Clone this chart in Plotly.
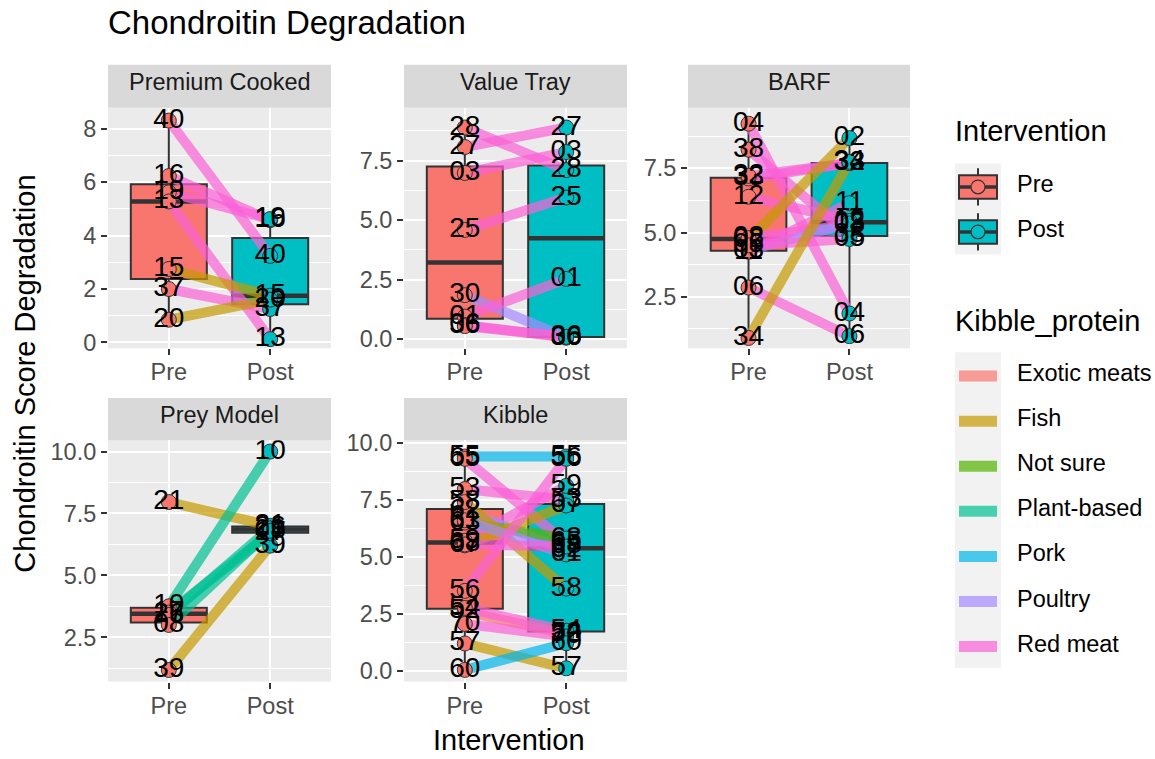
import numpy as np
import plotly.graph_objects as go

W, H = 1155, 759
FONT = "Liberation Sans, Arial, Helvetica, sans-serif"

# ---------------- data ----------------
facets = ["Premium Cooked", "Value Tray", "BARF", "Prey Model", "Kibble"]
interventions = ["Pre", "Post"]
proteins = ["Exotic meats", "Fish", "Not sure", "Plant-based", "Pork", "Poultry", "Red meat"]
protein_colors = ["#F8766D", "#C49A00", "#53B400", "#00C094", "#00B6EB", "#A58AFF", "#FB61D7"]
intervention_colors = ["#F8766D", "#00BFC4"]

pc_ids = ["40", "16", "19", "13", "15", "37", "20"]
pc_protein = ["Red meat", "Red meat", "Red meat", "Red meat", "Fish", "Red meat", "Fish"]
pc_pre = [8.31, 6.23, 5.62, 5.28, 2.75, 2.0, 0.85]
pc_post = [3.24, 4.58, 4.62, 0.12, 1.75, 1.25, 1.6]

vt_ids = ["28", "27", "03", "25", "30", "01", "06", "36"]
vt_protein = ["Red meat", "Red meat", "Red meat", "Red meat", "Poultry", "Red meat", "Red meat", "Red meat"]
vt_pre = [8.89, 8.07, 6.98, 4.59, 1.85, 0.95, 0.6, 0.55]
vt_post = [7.1, 8.89, 7.86, 5.95, 0.07, 2.53, 0.07, 0.1]

barf_ids = ["04", "38", "33", "32", "12", "02", "08", "03", "11", "05", "06", "34"]
barf_protein = ["Red meat", "Red meat", "Red meat", "Red meat", "Red meat", "Fish", "Red meat",
                "Poultry", "Red meat", "Red meat", "Red meat", "Fish"]
barf_pre = [9.23, 8.22, 7.1, 7.2, 6.39, 4.72, 4.78, 4.3, 4.25, 4.5, 2.86, 0.9]
barf_post = [1.85, 4.9, 7.7, 7.7, 5.45, 8.67, 5.3, 5.35, 6.14, 4.75, 0.97, 7.75]

prey_ids = ["21", "39", "10", "17", "26", "08"]
prey_protein = ["Fish", "Fish", "Plant-based", "Plant-based", "Plant-based", "Plant-based"]
prey_pre = [7.96, 1.18, 3.75, 3.5, 3.4, 3.0]
prey_post = [7.0, 6.2, 10.0, 6.7, 6.9, 6.8]

kib_ids = ["55", "65", "53", "59", "62", "63", "67", "58", "61", "68", "56", "52", "54", "70", "57", "60"]
kib_protein = ["Pork", "Red meat", "Red meat", "Red meat", "Poultry", "Not sure", "Fish", "Fish",
               "Poultry", "Red meat", "Red meat", "Exotic meats", "Red meat", "Red meat", "Fish", "Pork"]
kib_pre = [9.4, 9.3, 7.97, 5.7, 7.0, 6.5, 5.5, 7.4, 6.6, 5.54, 3.5, 2.6, 2.75, 2.05, 1.19, 0.03]
kib_post = [9.4, 5.6, 7.5, 8.11, 5.3, 5.8, 7.25, 3.6, 5.1, 5.45, 9.3, 1.6, 1.75, 1.5, 0.1, 1.2]

facet_data = {
    "Premium Cooked": (pc_ids, pc_protein, pc_pre, pc_post),
    "Value Tray": (vt_ids, vt_protein, vt_pre, vt_post),
    "BARF": (barf_ids, barf_protein, barf_pre, barf_post),
    "Prey Model": (prey_ids, prey_protein, prey_pre, prey_post),
    "Kibble": (kib_ids, kib_protein, kib_pre, kib_post),
}

# y tick labels per facet
facet_ticks = {
    "Premium Cooked": ["0", "2", "4", "6", "8"],
    "Value Tray": ["0.0", "2.5", "5.0", "7.5"],
    "BARF": ["2.5", "5.0", "7.5"],
    "Prey Model": ["2.5", "5.0", "7.5", "10.0"],
    "Kibble": ["0.0", "2.5", "5.0", "7.5", "10.0"],
}

# ---------------- layout geometry (pixels) ----------------
panel_px = {
    "Premium Cooked": (108, 331, 100, 346),
    "Value Tray": (404, 627, 100, 346),
    "BARF": (688, 910, 100, 346),
    "Prey Model": (108, 331, 440, 687),
    "Kibble": (404, 627, 440, 687),
}
strip_px = {1: (56, 100), 2: (397, 440)}
facet_row = {"Premium Cooked": 1, "Value Tray": 1, "BARF": 1, "Prey Model": 2, "Kibble": 2}
y_ranges = {
    "Premium Cooked": [-0.22, 8.79],
    "Value Tray": [-0.38, 9.72],
    "BARF": [0.50, 9.85],
    "Prey Model": [0.71, 10.46],
    "Kibble": [-0.485, 10.12],
}


def fx(p):
    return p / W


def fy(p):
    return 1 - p / H


def rgba(hexc, a):
    hexc = hexc.lstrip("#")
    r, g, b = int(hexc[0:2], 16), int(hexc[2:4], 16), int(hexc[4:6], 16)
    return f"rgba({r},{g},{b},{a})"


def box_stats(v):
    """ggplot2-style (quantile type 7) box statistics."""
    a = np.asarray(v, dtype=float)
    q1, med, q3 = np.percentile(a, [25, 50, 75])
    iqr = q3 - q1
    lo = a[a >= q1 - 1.5 * iqr].min()
    hi = a[a <= q3 + 1.5 * iqr].max()
    return float(q1), float(med), float(q3), float(lo), float(hi)


pcolor = dict(zip(proteins, protein_colors))
LINE_ALPHA = 0.7

fig = go.Figure()
shapes = []
annotations = []
xpos = {lvl: i + 1 for i, lvl in enumerate(interventions)}

for k, facet in enumerate(facets):
    n = k + 1
    xa = "x" if n == 1 else f"x{n}"
    ya = "y" if n == 1 else f"y{n}"
    ids, prot, pre, post = facet_data[facet]
    vals = {"Pre": pre, "Post": post}

    # boxes (ggplot-style statistics)
    for lvl, col in zip(interventions, intervention_colors):
        q1, med, q3, lo, hi = box_stats(vals[lvl])
        fig.add_trace(go.Box(
            x=[xpos[lvl]], q1=[q1], median=[med], q3=[q3], lowerfence=[lo], upperfence=[hi],
            xaxis=xa, yaxis=ya, width=0.75, whiskerwidth=0,
            fillcolor=col, line=dict(color="#333333", width=2), showlegend=False,
            hoverinfo="skip"))
    # thicker medians
    for lvl in interventions:
        med = box_stats(vals[lvl])[1]
        fig.add_trace(go.Scatter(
            x=[xpos[lvl] - 0.375, xpos[lvl] + 0.375], y=[med, med], xaxis=xa, yaxis=ya,
            mode="lines", line=dict(color="#333333", width=4.5), showlegend=False,
            hoverinfo="skip"))
    # paired lines
    for sid, p, a, b in zip(ids, prot, pre, post):
        fig.add_trace(go.Scatter(
            x=[xpos["Pre"], xpos["Post"]], y=[a, b], xaxis=xa, yaxis=ya, mode="lines",
            line=dict(color=rgba(pcolor[p], LINE_ALPHA), width=10), showlegend=False,
            hoverinfo="skip"))
    # points + labels
    for lvl, col in zip(interventions, intervention_colors):
        fig.add_trace(go.Scatter(
            x=[xpos[lvl]] * len(ids), y=vals[lvl], xaxis=xa, yaxis=ya, mode="markers",
            marker=dict(size=15, color=col, line=dict(color="#333333", width=1)),
            showlegend=False, hoverinfo="skip"))
    for lvl in interventions:
        fig.add_trace(go.Scatter(
            x=[xpos[lvl]] * len(ids), y=vals[lvl], xaxis=xa, yaxis=ya, mode="text",
            text=ids, textposition="middle center",
            textfont=dict(size=28, color="black", family=FONT),
            showlegend=False, hoverinfo="skip"))

    x0, x1, y0, y1 = panel_px[facet]
    tick_text = facet_ticks[facet]
    tick_vals = [float(t) for t in tick_text]
    step = tick_vals[1] - tick_vals[0]
    minor_vals = [tick_vals[0] - step / 2] + [t + step / 2 for t in tick_vals]
    axis_common = dict(
        ticks="outside", ticklen=6, tickwidth=1.5, tickcolor="#333333",
        tickfont=dict(size=23.5, color="#4D4D4D", family=FONT),
        showgrid=True, gridcolor="white", gridwidth=2, zeroline=False,
        showline=False, fixedrange=True)
    fig.update_layout(**{
        ("xaxis" if n == 1 else f"xaxis{n}"): dict(
            domain=[fx(x0), fx(x1)], range=[0.4, 2.6], anchor=ya,
            tickmode="array", tickvals=[1, 2], ticktext=interventions,
            ticklabelstandoff=-3, **axis_common),
        ("yaxis" if n == 1 else f"yaxis{n}"): dict(
            domain=[fy(y1), fy(y0)], range=y_ranges[facet], anchor=xa,
            tickmode="array", tickvals=tick_vals, ticktext=tick_text,
            minor=dict(tickmode="array", tickvals=minor_vals, showgrid=True,
                       gridcolor="white", gridwidth=1, ticks=""),
            **axis_common),
    })
    # strip
    s0, s1 = strip_px[facet_row[facet]]
    shapes.append(dict(type="rect", xref="paper", yref="paper", x0=fx(x0), x1=fx(x1),
                       y0=fy(s1), y1=fy(s0), fillcolor="#D9D9D9", line=dict(width=0),
                       layer="below"))
    annotations.append(dict(xref="paper", yref="paper", x=fx((x0 + x1) / 2),
                            y=fy((s0 + s1) / 2 - 4.5), text=facet, showarrow=False,
                            xanchor="center", yanchor="middle",
                            font=dict(size=23.5, color="#1A1A1A", family=FONT)))

# titles
annotations.append(dict(xref="paper", yref="paper", x=fx(106), y=fy(13),
                        text="Chondroitin Degradation", showarrow=False, xanchor="left",
                        yanchor="middle", font=dict(size=33, color="black", family=FONT)))
annotations.append(dict(xref="paper", yref="paper", x=fx(25), y=fy(372),
                        text="Chondroitin Score Degradation", showarrow=False, textangle=-90,
                        xanchor="center", yanchor="middle",
                        font=dict(size=29, color="black", family=FONT)))
annotations.append(dict(xref="paper", yref="paper", x=fx(509), y=fy(747),
                        text="Intervention", showarrow=False, xanchor="center",
                        yanchor="middle", font=dict(size=29, color="black", family=FONT)))

# ---------------- legends (drawn) ----------------
LX0, LX1 = 955, 1001
annotations.append(dict(xref="paper", yref="paper", x=fx(953), y=fy(124), text="Intervention",
                        showarrow=False, xanchor="left", yanchor="middle",
                        font=dict(size=29, color="black", family=FONT)))
shapes.append(dict(type="rect", xref="paper", yref="paper", x0=fx(LX0), x1=fx(LX1),
                   y0=fy(250), y1=fy(157), fillcolor="#F2F2F2", line=dict(width=0)))
for i, (lvl, col) in enumerate(zip(interventions, intervention_colors)):
    cy = 181 + 46 * i
    cx = (LX0 + LX1) / 2
    shapes.append(dict(type="line", xref="paper", yref="paper", x0=fx(cx), x1=fx(cx),
                       y0=fy(cy - 19), y1=fy(cy + 19), line=dict(color="#333333", width=2)))
    shapes.append(dict(type="rect", xref="paper", yref="paper", x0=fx(959), x1=fx(997),
                       y0=fy(cy + 12), y1=fy(cy - 12), fillcolor=col,
                       line=dict(color="#333333", width=2)))
    shapes.append(dict(type="line", xref="paper", yref="paper", x0=fx(959), x1=fx(997),
                       y0=fy(cy), y1=fy(cy), line=dict(color="#333333", width=3.5)))
    shapes.append(dict(type="circle", xref="paper", yref="paper", x0=fx(cx - 7), x1=fx(cx + 7),
                       y0=fy(cy + 7), y1=fy(cy - 7), fillcolor=col,
                       line=dict(color="#333333", width=1.2)))
    annotations.append(dict(xref="paper", yref="paper", x=fx(1015), y=fy(cy - 3), text=lvl,
                            showarrow=False, xanchor="left", yanchor="middle",
                            font=dict(size=23.5, color="black", family=FONT)))

annotations.append(dict(xref="paper", yref="paper", x=fx(953), y=fy(318), text="Kibble_protein",
                        showarrow=False, xanchor="left", yanchor="middle",
                        font=dict(size=29, color="black", family=FONT)))
shapes.append(dict(type="rect", xref="paper", yref="paper", x0=fx(LX0), x1=fx(LX1),
                   y0=fy(673), y1=fy(350), fillcolor="#F2F2F2", line=dict(width=0)))
for i, (p, col) in enumerate(zip(proteins, protein_colors)):
    cy = 374.5 + 46.1 * i
    shapes.append(dict(type="line", xref="paper", yref="paper", x0=fx(959), x1=fx(997),
                       y0=fy(cy), y1=fy(cy), line=dict(color=rgba(col, LINE_ALPHA), width=11)))
    annotations.append(dict(xref="paper", yref="paper", x=fx(1015), y=fy(cy - 3), text=p,
                            showarrow=False, xanchor="left", yanchor="middle",
                            font=dict(size=23.5, color="black", family=FONT)))

fig.update_layout(
    width=W, height=H, autosize=False,
    margin=dict(l=0, r=0, t=0, b=0),
    paper_bgcolor="white", plot_bgcolor="#EBEBEB",
    showlegend=False, shapes=shapes, annotations=annotations,
    font=dict(family=FONT),
)

fig.write_html("out.html", config={"displayModeBar": False},
               post_script="document.body.style.margin='0';")
